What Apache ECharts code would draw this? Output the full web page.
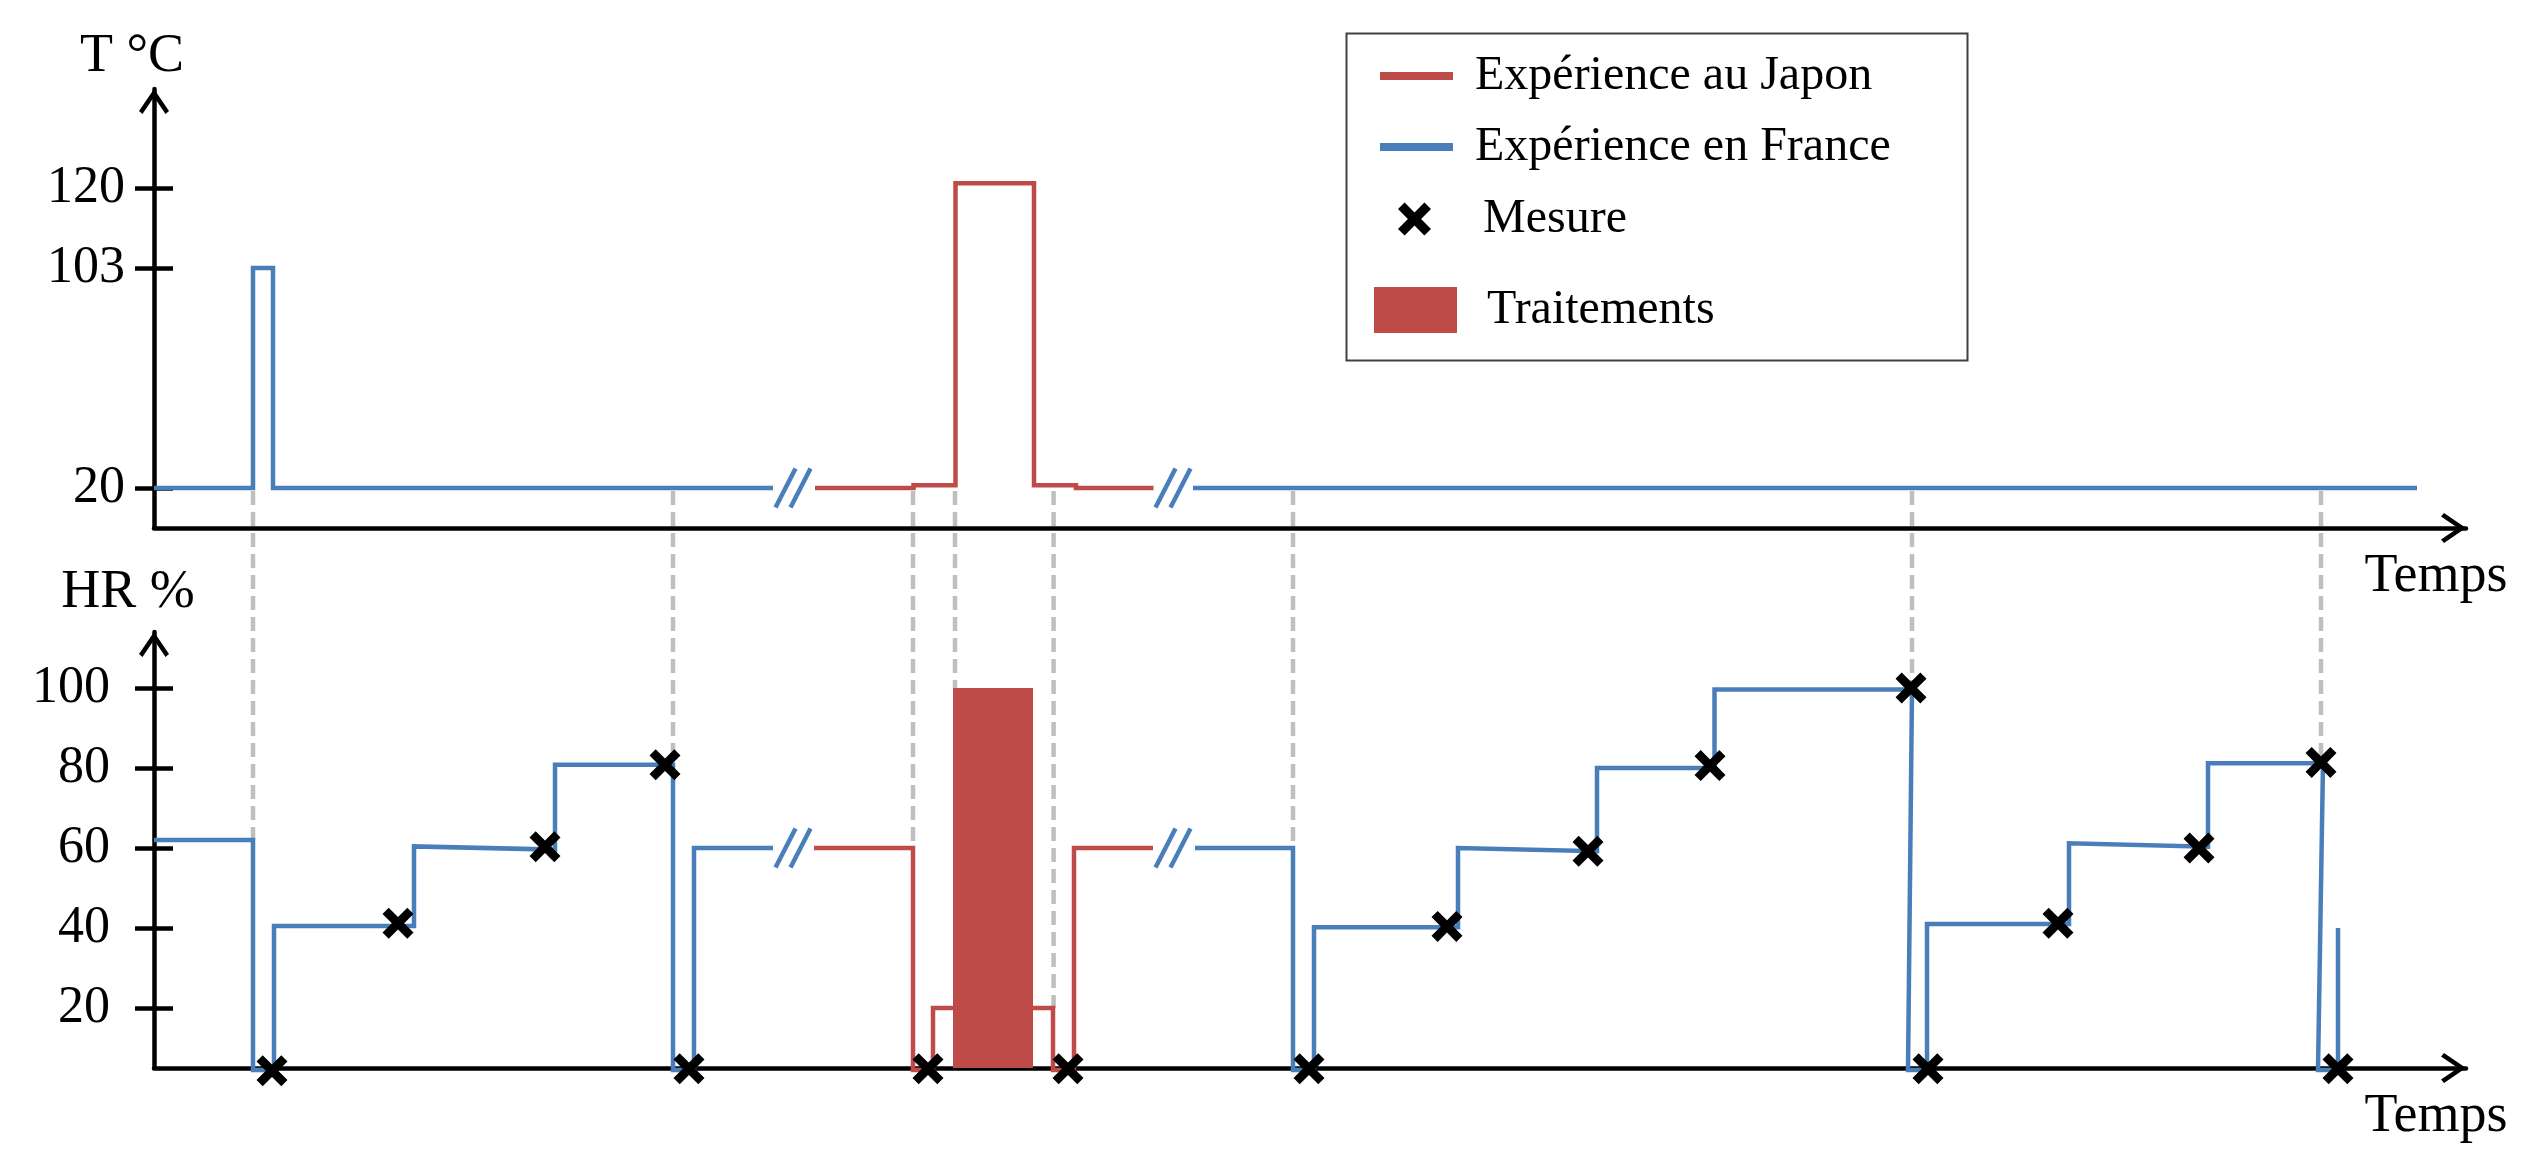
<!DOCTYPE html>
<html><head><meta charset="utf-8">
<script src="https://cdn.jsdelivr.net/npm/echarts@6/dist/echarts.min.js"></script>
<style>html,body{margin:0;padding:0;background:#fff}#c{width:2544px;height:1151px}</style>
</head><body><div id="c"></div>
<script>
// ------------------ data (time in schematic units, T in °C, HR in %) ------------------
const T_TICKS = [20, 103, 120];
const HR_TICKS = [20, 40, 60, 80, 100];

const tempFranceA = [[0,20],[9.9,20],[9.9,103],[11.9,103],[11.9,20],[61.9,20]];
const tempJapan   = [[66.1,20],[75.95,20],[75.95,21],[80.15,21],[80.15,121],[88.0,121],[88.0,21],[92.2,21],[92.2,20],[99.95,20]];
const tempFranceB = [[103.9,20],[226.3,20]];

const hrFranceA = [[0,62],[9.9,62],[9.9,4.5],[12.0,4.5],[12.0,40.5],[26.0,40.5],[26.0,60.4],[40.1,59.6],[40.1,80.8],[51.9,80.8],[51.9,4.5],[54.0,4.5],[54.0,60],[61.9,60]];
const hrJapan   = [[66.0,60],[75.9,60],[75.9,4.5],[77.9,4.5],[77.9,20],[89.9,20],[89.9,4.5],[92.0,4.5],[92.0,60],[99.9,60]];
const hrFranceB = [[104.1,60],[113.9,60],[113.9,4.5],[116.0,4.5],[116.0,40.2],[130.4,40.2],[130.4,60],[144.3,59.2],[144.3,80],[156.05,80],[156.05,99.6],[175.8,99.6],[175.4,4.5],[177.3,4.5],[177.3,41],[191.5,41],[191.5,61.2],[205.4,60.3],[205.4,81.2],[216.9,81.2],[216.4,4.5],[218.4,4.5],[218.4,40]];

const measures = [[11.8,4.3],[24.4,41.2],[39.1,60.3],[51.1,80.8],[53.5,4.8],[77.4,4.8],[91.4,4.8],[115.5,4.8],[129.3,40.4],[143.4,59.2],[155.6,80.6],[175.7,100],[177.4,4.8],[190.4,41.2],[204.5,60],[216.7,81.4],[218.4,4.8]];

const treatment = [[79.9, 87.9, 100]]; // start, end, HR

const linkTimes = [9.9, 51.9, 75.9, 80.1, 89.96, 113.9, 175.8, 216.7];
const linkHR    = [62, 81, 60, 100, 20, 60, 100, 81];
const linkTemp  = 20;

const breakTimes = [63.9, 101.9];
const breakTemp  = 20;
const breakHR    = 60;

// ------------------ styling / layout ------------------
const FONT = "'Liberation Serif', 'Times New Roman', serif";
const BLUE = '#4A7EBB', RED = '#BE4B48', GREY = '#BFBFBF';
const X_PATH = 'path://M0,2 L2,0 L5,3 L8,0 L10,2 L7,5 L10,8 L8,10 L5,7 L2,10 L0,8 L3,5 Z';
const ARROW_PATH = 'path://M15,0 L30,22 L26.5,25 L15,8 L3.5,25 L0,22 Z';
const X_MAX = 231.2;
const T_AXIS_MAX = 21.95;
const HR_MIN = 5, HR_MAX = 114;
// schematic (non-linear) temperature axis: temperature -> axis position
const T_AXIS_STOPS = [[20, 2], [103, 13], [120, 17]];
function seg(T, s) {
  let i = 0;
  if (T >= s[s.length - 1][0]) i = s.length - 2;
  else if (T > s[0][0]) { while (T > s[i + 1][0]) i++; }
  return i;
}
function tToU(T) { const s = T_AXIS_STOPS, i = seg(T, s); const [a, ua] = s[i], [b, ub] = s[i + 1]; return ua + (T - a) * (ub - ua) / (b - a); }
function uToT(u) { const s = T_AXIS_STOPS.map(p => [p[1], p[0]]), i = seg(u, s); const [a, ta] = s[i], [b, tb] = s[i + 1]; return ta + (u - a) * (tb - ta) / (b - a); }
const mapT = arr => arr.map(([t, T]) => [t, tToU(T)]);

const chart = echarts.init(document.getElementById('c'), null, {renderer: 'canvas'});

const arrowLine = {show: true, onZero: false, symbol: ['none', ARROW_PATH], symbolSize: [30, 25], symbolOffset: [0, -12.5], lineStyle: {color: '#000', width: 4.5}};
const tickStyle = {color: '#000', width: 4.5};
const labelFont = {fontFamily: FONT, fontSize: 52, color: '#000'};
const nameFont = {fontFamily: FONT, fontSize: 54, color: '#000'};
const legendText = {fontFamily: FONT, fontSize: 48, color: '#000'};

function xAxis(gi) {
  return {gridIndex: gi, type: 'value', min: 0, max: X_MAX, axisLine: arrowLine,
    axisTick: {show: false}, axisLabel: {show: false}, splitLine: {show: false},
    name: 'Temps', nameLocation: 'end', nameGap: -30,
    nameTextStyle: Object.assign({align: 'center', verticalAlign: 'top', padding: [22, 0, 0, 0]}, nameFont)};
}
function line(name, data, color, xi, yi) {
  return {type: 'line', name, xAxisIndex: xi, yAxisIndex: yi, data, showSymbol: false, symbol: 'none',
    clip: false, silent: true, z: 3, lineStyle: {color, width: 4.5, join: 'miter', opacity: 1}, itemStyle: {color}};
}
function breakRender(params, api) {
  const c = api.coord([api.value(0), api.value(1)]);
  const sep = 15, dx = 20, dy = 39;
  return {type: 'group', children: [-1, 1].map(k => ({type: 'line',
    shape: {x1: c[0] + k * sep / 2 - dx / 2, y1: c[1] + dy / 2, x2: c[0] + k * sep / 2 + dx / 2, y2: c[1] - dy / 2},
    style: {stroke: BLUE, lineWidth: 4.5}}))};
}

const tTickPos = T_TICKS.map(tToU);

const option = {
  animation: false,
  backgroundColor: '#fff',
  textStyle: {fontFamily: FONT},
  grid: [
    {left: 154, right: 78, top: 89, height: 439, outerBoundsMode: 'none', containLabel: false},
    {left: 154, right: 78, top: 632, height: 436, outerBoundsMode: 'none', containLabel: false}
  ],
  xAxis: [xAxis(0), xAxis(1)],
  yAxis: [
    {gridIndex: 0, type: 'value', position: 'left', min: 0, max: T_AXIS_MAX, axisLine: arrowLine,
      axisTick: {show: true, length: 19, customValues: tTickPos, lineStyle: tickStyle},
      axisLabel: Object.assign({show: true, customValues: tTickPos, margin: 29, padding: [0, 0, 12, 0],
        formatter: v => String(Math.round(uToT(v)))}, labelFont),
      splitLine: {show: false},
      name: 'T °C', nameLocation: 'end', nameGap: 5,
      nameTextStyle: Object.assign({align: 'center', verticalAlign: 'bottom', padding: [0, 44, 0, 0]}, nameFont)},
    {gridIndex: 0, type: 'value', position: 'left', offset: 0, min: 0, max: T_AXIS_MAX, axisLine: {show: false},
      axisTick: {show: true, inside: true, length: 19, customValues: tTickPos, lineStyle: tickStyle},
      axisLabel: {show: false}, splitLine: {show: false}},
    {gridIndex: 1, type: 'value', position: 'left', min: HR_MIN, max: HR_MAX, axisLine: arrowLine,
      axisTick: {show: true, length: 19, customValues: HR_TICKS, lineStyle: tickStyle},
      axisLabel: Object.assign({show: true, customValues: HR_TICKS, margin: 44, padding: [0, 0, 12, 0]}, labelFont),
      splitLine: {show: false},
      name: 'HR %', nameLocation: 'end', nameGap: 12,
      nameTextStyle: Object.assign({align: 'center', verticalAlign: 'bottom', padding: [0, 52, 0, 0]}, nameFont)},
    {gridIndex: 1, type: 'value', position: 'left', offset: 0, min: HR_MIN, max: HR_MAX, axisLine: {show: false},
      axisTick: {show: true, inside: true, length: 19, customValues: HR_TICKS, lineStyle: tickStyle},
      axisLabel: {show: false}, splitLine: {show: false}}
  ],
  legend: [
    {left: 1380, top: 52, padding: 0, selectedMode: false, itemWidth: 73, itemHeight: 8,
      data: [{name: 'Expérience au Japon', icon: 'rect', itemStyle: {color: RED, opacity: 1}}],
      textStyle: Object.assign({padding: [0, 0, 8, 17]}, legendText)},
    {left: 1380, top: 123, padding: 0, selectedMode: false, itemWidth: 73, itemHeight: 8,
      data: [{name: 'Expérience en France', icon: 'rect', itemStyle: {color: BLUE, opacity: 1}}],
      textStyle: Object.assign({padding: [0, 0, 8, 17]}, legendText)},
    {left: 1398, top: 195, padding: 0, selectedMode: false, itemWidth: 33, itemHeight: 33,
      data: [{name: 'Mesure', icon: X_PATH, itemStyle: {color: '#000', opacity: 1}}],
      textStyle: Object.assign({padding: [0, 0, 8, 47]}, legendText)},
    {left: 1374, top: 286, padding: 0, selectedMode: false, itemWidth: 83, itemHeight: 46,
      data: [{name: 'Traitements', icon: 'rect', itemStyle: {color: RED, opacity: 1}}],
      textStyle: Object.assign({padding: [0, 0, 8, 25]}, legendText)}
  ],
  graphic: [
    {type: 'rect', left: 1344, top: 31, shape: {width: 621, height: 327}, style: {fill: 'none', stroke: '#404040', lineWidth: 2}, z: -1, silent: true}
  ],
  series: [
    // grey dashed links between the T curve and the HR curve
    {type: 'custom', xAxisIndex: 1, yAxisIndex: 2, z: 1, silent: true, clip: false,
      data: linkTimes.map((t, i) => [t, linkHR[i]]),
      renderItem: function (params, api) {
        const t = api.value(0);
        const bottom = api.coord([t, api.value(1)]);
        const top = chart.convertToPixel({xAxisIndex: 0, yAxisIndex: 0}, [t, tToU(linkTemp)]);
        return {type: 'line', shape: {x1: bottom[0], y1: top[1] + 3, x2: bottom[0], y2: bottom[1]},
          style: {stroke: GREY, lineWidth: 4.5, lineDash: [14, 7]}};
      }},
    // treatment bar
    {type: 'custom', name: 'Traitements', xAxisIndex: 1, yAxisIndex: 2, z: 4, silent: true,
      encode: {x: [0, 1], y: 2},
      data: treatment,
      itemStyle: {color: RED},
      renderItem: function (params, api) {
        const p1 = api.coord([api.value(0), api.value(2)]);
        const p2 = api.coord([api.value(1), HR_MIN]);
        return {type: 'rect', shape: {x: p1[0], y: p1[1], width: p2[0] - p1[0], height: p2[1] - p1[1]}, style: {fill: RED}};
      }},
    line('Expérience en France', mapT(tempFranceA), BLUE, 0, 0),
    line('Expérience au Japon', mapT(tempJapan), RED, 0, 0),
    line('Expérience en France', mapT(tempFranceB), BLUE, 0, 0),
    line('Expérience en France', hrFranceA, BLUE, 1, 2),
    line('Expérience au Japon', hrJapan, RED, 1, 2),
    line('Expérience en France', hrFranceB, BLUE, 1, 2),
    // axis break marks
    {type: 'custom', xAxisIndex: 0, yAxisIndex: 0, z: 5, silent: true, clip: false,
      data: breakTimes.map(t => [t, tToU(breakTemp)]), renderItem: breakRender},
    {type: 'custom', xAxisIndex: 1, yAxisIndex: 2, z: 5, silent: true, clip: false,
      data: breakTimes.map(t => [t, breakHR]), renderItem: breakRender},
    // measurements
    {type: 'scatter', name: 'Mesure', xAxisIndex: 1, yAxisIndex: 2, z: 6, silent: true, clip: false,
      symbol: X_PATH, symbolSize: 31, itemStyle: {color: '#000', opacity: 1}, data: measures}
  ]
};
chart.setOption(option);
</script>
</body></html>
